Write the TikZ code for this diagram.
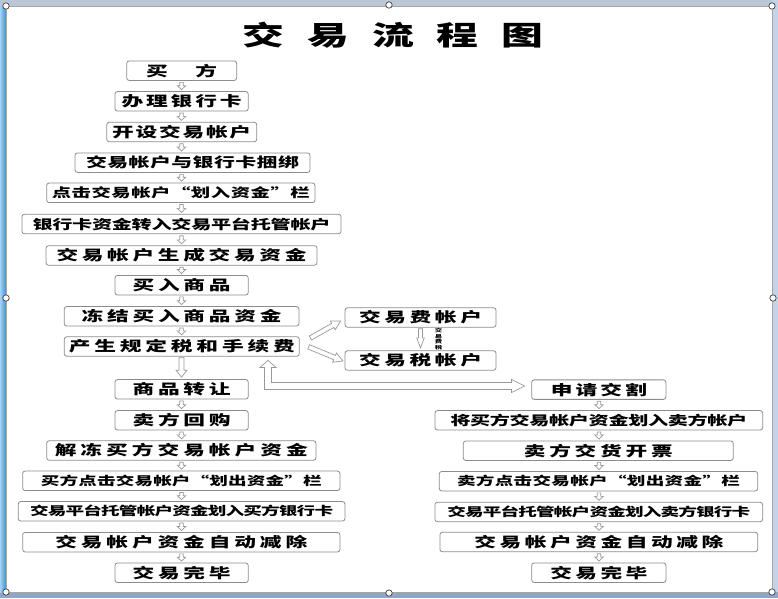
\documentclass[tikz,border=0pt]{standalone}
\usepackage{fontspec}
\usetikzlibrary{calc}
\newfontfamily\cjk[FakeStretch=1.55]{Noto Sans CJK SC}
\newcommand\sprglue{\hskip 0pt plus 1fil minus 1fil}
\ExplSyntaxOn
\NewDocumentCommand\spr{mm}{\makebox[#1][s]{\tl_map_inline:nn{#2}{##1\sprglue}\unskip}}
\ExplSyntaxOff
\definecolor{frL}{HTML}{3E8ED8}
\definecolor{frLl}{HTML}{A8D0F2}
\definecolor{frT}{HTML}{BCC7D6}
\definecolor{frR}{HTML}{C3D4EA}
\definecolor{frB}{HTML}{8FA6C6}
\tikzset{
  bx/.style={draw=black!45, line width=0.8pt, rounded corners=2.5pt, fill=white, inner sep=0pt},
  hol/.style={draw=black!40, line width=0.7pt, fill=white, line join=miter},
  f14/.style={font=\cjk\bfseries\fontsize{14}{16}\selectfont},
  f135/.style={font=\cjk\bfseries\fontsize{13.5}{15}\selectfont},
  f13/.style={font=\cjk\bfseries\fontsize{13}{15}\selectfont},
  f125/.style={font=\cjk\bfseries\fontsize{12.5}{14}\selectfont},
  f12/.style={font=\cjk\bfseries\fontsize{12}{14}\selectfont},
  handle/.style={draw=black!75, fill=white, line width=0.7pt},
}
% box: name, x, y, width, font style, text width, text
\newcommand\bxn[7]{\node[bx,#5,minimum width=#4pt,minimum height=19.5pt] (#1) at (#2,#3) {\spr{#6pt}{#7}};}
% hollow block arrow: start, end, shaft half width, head half width, head length
\newcommand\blk[5]{%
  \coordinate (bkB) at ($(#2)!#5!(#1)$);
  \draw[hol] ($(#1)!#3!90:(#2)$) -- ($(bkB)!#3!-90:(#1)$) -- ($(bkB)!#4!-90:(#1)$) -- (#2)
    -- ($(bkB)!#4!90:(#1)$) -- ($(bkB)!#3!90:(#1)$) -- ($(#1)!#3!-90:(#2)$) -- cycle;}
% small vertical arrow: column, upper node, lower node
\newcommand\varr[3]{%
  \coordinate (vs) at ($(#1 |- #2.south)+(0pt,-1.5pt)$);
  \coordinate (ve) at ($(#1 |- #3.north)+(0pt,1.5pt)$);
  \blk{vs}{ve}{1.8pt}{4.2pt}{4pt}}
\begin{document}
\begin{tikzpicture}[x=1pt,y=-1pt]
\useasboundingbox (0,0) rectangle (778,598);
% frame
\fill[frT] (0,0) rectangle (778,598);
\fill[frR] (772,0) rectangle (778,598);
\fill[frB] (0,592) rectangle (778,598);
\shade[left color=frLl, right color=frL] (0,6) rectangle (6,592);
\fill[white] (6,6) rectangle (772,592);
\draw[black!35, line width=0.6pt] (6,6) rectangle (772,592);

% title
\node[font=\cjk\bfseries\fontsize{27}{30}\selectfont, inner sep=0pt] (title) at (393,34.7) {\spr{301pt}{交易流程图}};

\coordinate (cL) at (181.5,0);
\coordinate (cR) at (599,0);

% left column
\bxn{b1}{181.7}{70.7}{110}{f14}{71}{买方}
\bxn{b2}{181.6}{101.3}{133.3}{f14}{120}{办理银行卡}
\bxn{b3}{181.7}{132}{150}{f14}{139}{开设交易帐户}
\bxn{b4}{192.5}{162.7}{235}{f135}{213}{交易帐户与银行卡捆绑}
\bxn{b5}{180.8}{192.8}{268.3}{f125}{258}{点击交易帐户“划入资金”栏}
\bxn{b6}{181.5}{224}{319}{f13}{298}{银行卡资金转入交易平台托管帐户}
\bxn{b7}{181.5}{255.5}{271}{f14}{250}{交易帐户生成交易资金}
\bxn{b8}{181.6}{285.2}{133.3}{f14}{98}{买入商品}
\bxn{b9}{181.6}{316.3}{234.7}{f14}{200}{冻结买入商品资金}
\bxn{chan}{181.8}{346.5}{235}{f14}{226}{产生规定税和手续费}
\bxn{spzr}{181.6}{389.3}{133.3}{f14}{98}{商品转让}
\bxn{mfhg}{181.6}{420.3}{133.3}{f14}{98}{卖方回购}
\bxn{jd}{181.3}{450.5}{269.3}{f14}{253}{解冻买方交易帐户资金}
\bxn{bfdj}{181.3}{480.8}{317.3}{f12}{281}{买方点击交易帐户“划出资金”栏}
\bxn{ptb}{181.6}{511.3}{326.7}{f12}{303}{交易平台托管帐户资金划入买方银行卡}
\bxn{zdL}{181.3}{542.2}{317.3}{f14}{252}{交易帐户资金自动减除}
\bxn{wbL}{181.6}{572.8}{133.3}{f14}{98}{交易完毕}

% right column
\bxn{fei}{420.5}{317.5}{151}{f14}{123}{交易费帐户}
\bxn{shui}{420.5}{360.5}{151}{f14}{123}{交易税帐户}
\bxn{shen}{598.8}{389.6}{134.3}{f14}{96}{申请交割}
\bxn{r2}{598.8}{420.3}{327.7}{f13}{297}{将买方交易帐户资金划入卖方帐户}
\bxn{r3}{598.3}{450.7}{270}{f14}{149}{卖方交货开票}
\bxn{r4}{598.5}{481.2}{318.4}{f12}{283}{卖方点击交易帐户“划出资金”栏}
\bxn{r5}{598.8}{512}{327.7}{f12}{303}{交易平台托管帐户资金划入卖方银行卡}
\bxn{r6}{598.8}{542}{317.7}{f14}{249}{交易帐户资金自动减除}
\bxn{r7}{598.8}{572.7}{134.3}{f14}{97}{交易完毕}

% small arrows, left
\varr{cL}{b1}{b2}
\varr{cL}{b2}{b3}
\varr{cL}{b3}{b4}
\varr{cL}{b4}{b5}
\varr{cL}{b5}{b6}
\varr{cL}{b6}{b7}
\varr{cL}{b7}{b8}
\varr{cL}{b8}{b9}
\varr{cL}{b9}{chan}
\varr{cL}{spzr}{mfhg}
\varr{cL}{mfhg}{jd}
\varr{cL}{jd}{bfdj}
\varr{cL}{bfdj}{ptb}
\varr{cL}{ptb}{zdL}
\varr{cL}{zdL}{wbL}
% small arrows, right
\varr{cR}{shen}{r2}
\varr{cR}{r2}{r3}
\varr{cR}{r3}{r4}
\varr{cR}{r4}{r5}
\varr{cR}{r5}{r6}
\varr{cR}{r6}{r7}

% big arrow chan -> spzr
\coordinate (bs) at ($(cL |- chan.south)+(0pt,-1pt)$);
\coordinate (be) at ($(cL |- spzr.north)+(0pt,2pt)$);
\blk{bs}{be}{2.5pt}{5.5pt}{7pt}

% fee -> tax
\coordinate (fs) at ($(fei.south)+(0pt,-1pt)$);
\coordinate (fe) at ($(shui.north)+(0pt,2.5pt)$);
\blk{fs}{fe}{2pt}{3.8pt}{10pt}
\node[font=\cjk\bfseries\fontsize{4.8}{5.6}\selectfont, align=center, inner sep=0pt] (lbl) at (438.5,339) {交\\易\\费\\税};

% diagonal arrows
\coordinate (d1s) at ($(chan.east)+(10.7pt,8.5pt)$);
\coordinate (d1e) at ($(fei.west)+(-4pt,-3.5pt)$);
\blk{d1s}{d1e}{2.3pt}{5pt}{9pt}
\coordinate (d2s) at ($(chan.east)+(9pt,-0.3pt)$);
\coordinate (d2e) at ($(shui.west)+(-1.7pt,-0.5pt)$);
\blk{d2s}{d2e}{2.3pt}{5pt}{9pt}

% L-shaped double arrow chan <-> shen
\coordinate (Lx) at (268,0);
\coordinate (Lu) at ($(Lx |- chan.south)+(0pt,-3.8pt)$);
\coordinate (Lr) at ($(shen.west)+(-6.7pt,3.6pt)$);
\coordinate (Lc) at (Lu |- Lr);
\draw[hol] (Lu) -- ($(Lu)+(8pt,-7pt)$) -- ($(Lu)+(3.5pt,-7pt)$) -- ($(Lc)+(3.5pt,3.5pt)$)
  -- ($(Lr)+(-13pt,3.5pt)$) -- ($(Lr)+(-13pt,6.5pt)$) -- (Lr) -- ($(Lr)+(-13pt,-6.5pt)$)
  -- ($(Lr)+(-13pt,-3.5pt)$) -- ($(Lc)+(-3.5pt,-3.5pt)$) -- ($(Lu)+(-3.5pt,-7pt)$)
  -- ($(Lu)+(-8pt,-7pt)$) -- cycle;

% selection handles
\foreach \hx/\hy in {6/6,389/5,772/6,6/298,773/298,6/592,389/593,772/592}
  \draw[handle] (\hx,\hy) circle[radius=3.2pt];
\end{tikzpicture}
\end{document}
